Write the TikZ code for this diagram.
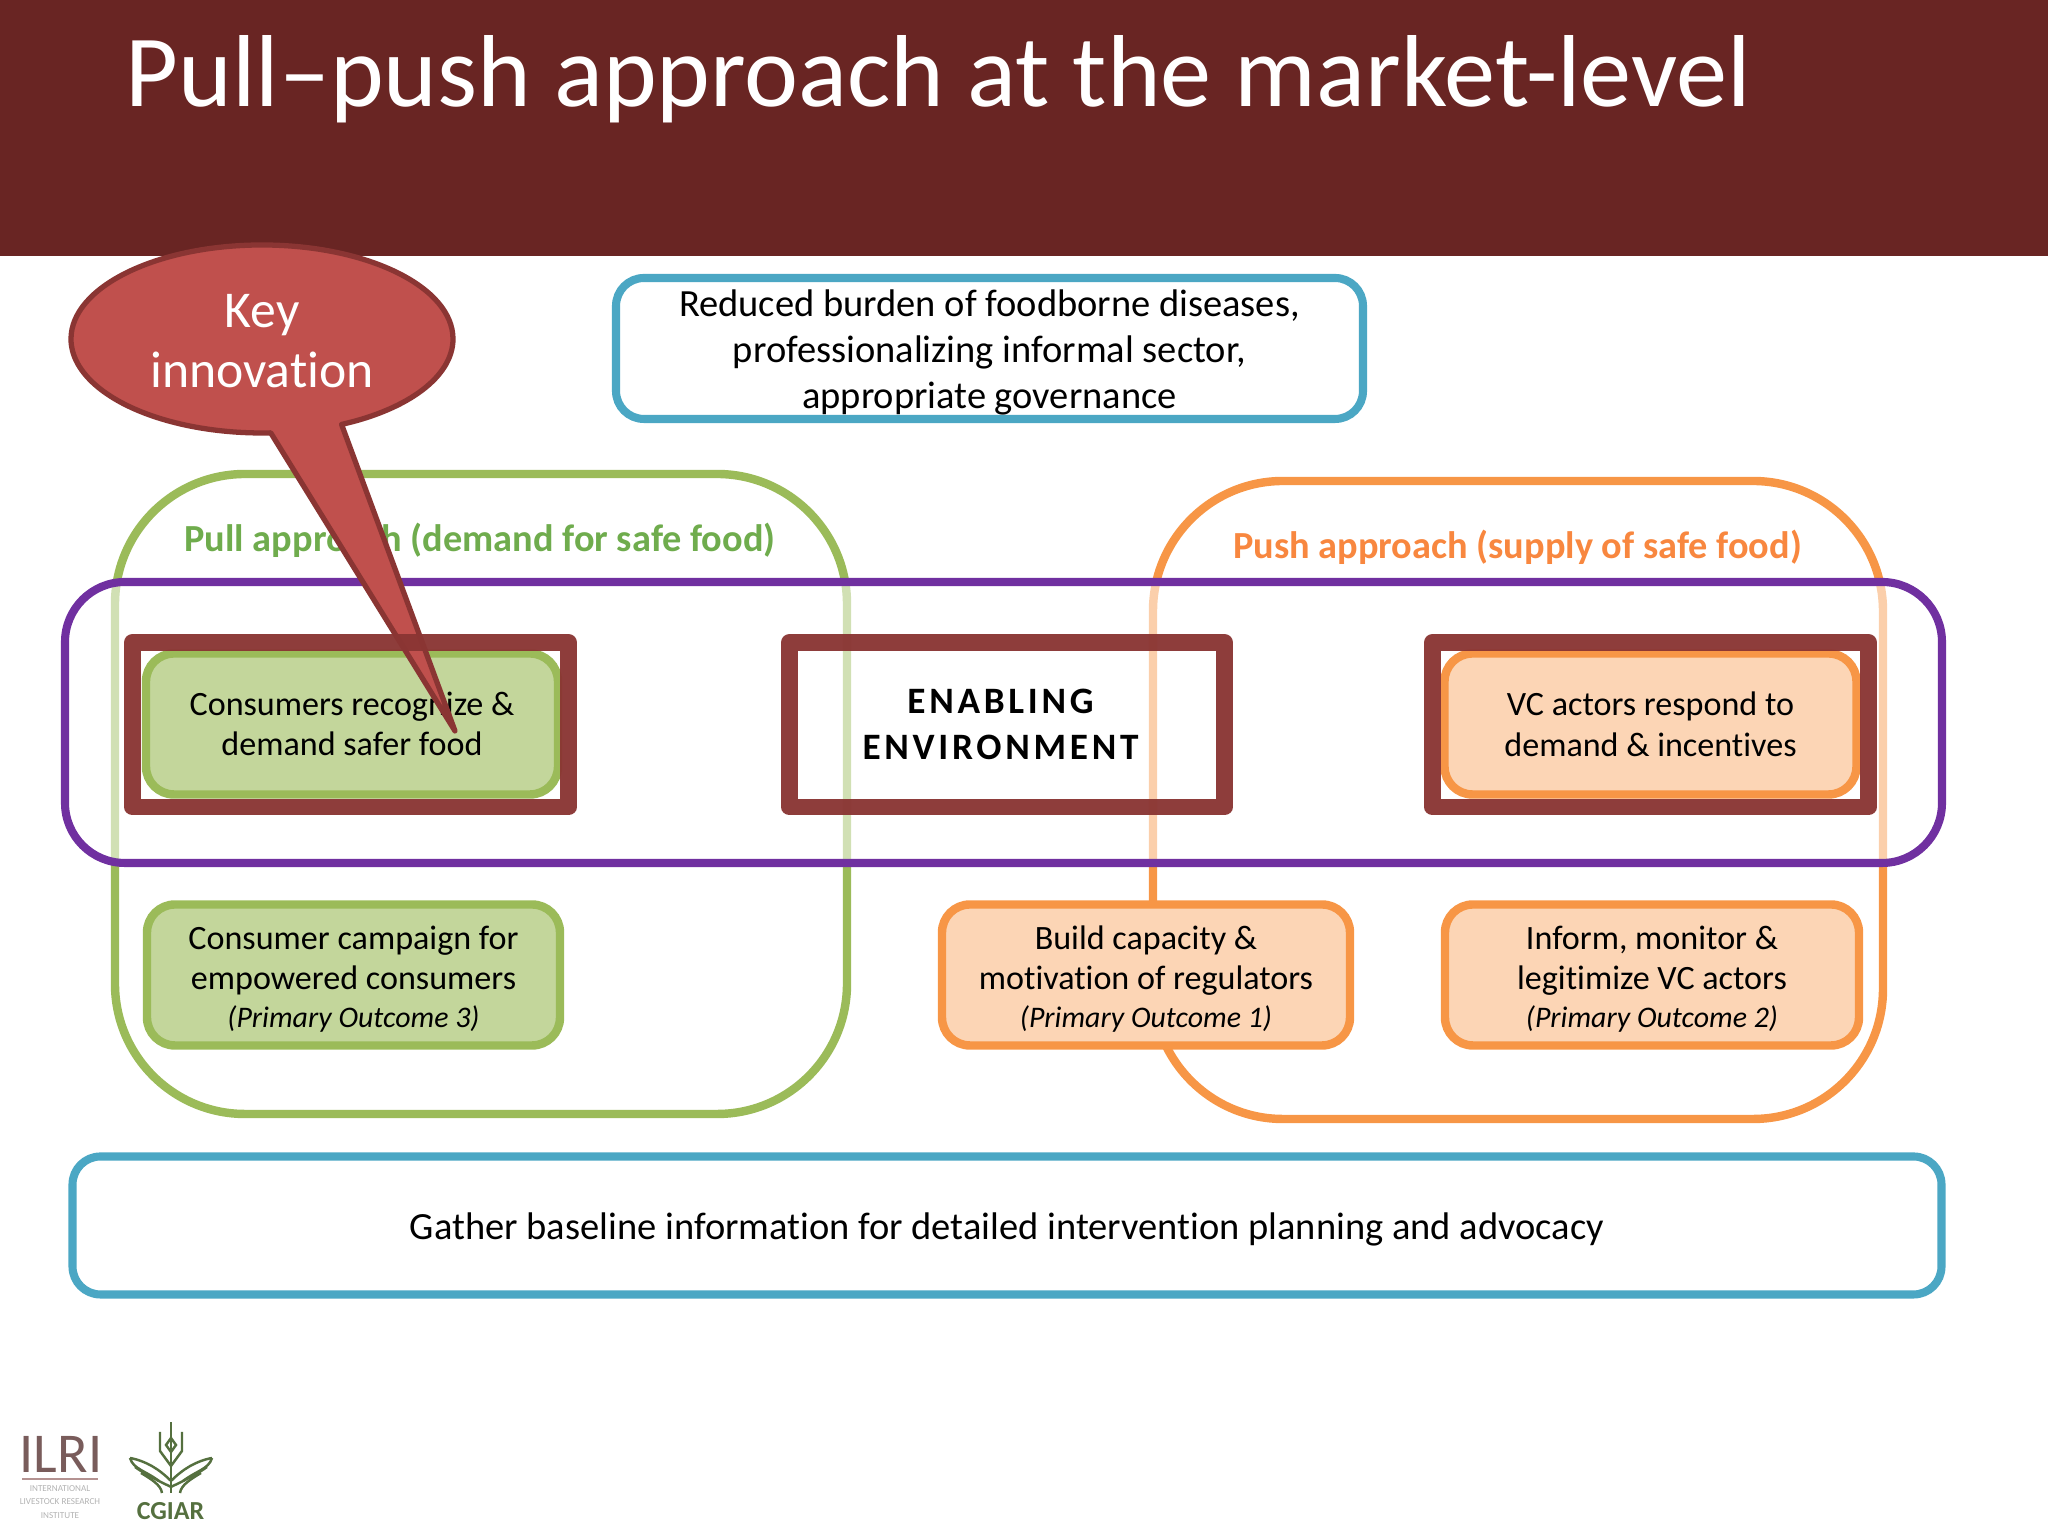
\documentclass[tikz,border=0pt]{standalone}
\usepackage{fontspec}
\setmainfont[Ligatures=NoCommon]{Carlito}
\usetikzlibrary{shapes.geometric, shapes.callouts, positioning, calc}
\definecolor{ilrimaroon}{HTML}{692523}
\definecolor{ilriframe}{HTML}{8A3533}
\definecolor{ilrired}{HTML}{C0504D}
\definecolor{ilriblue}{HTML}{4BA7C4}
\definecolor{ilrigreen}{HTML}{9BBB59}
\definecolor{ilrilime}{HTML}{C3D69B}
\definecolor{ilriorange}{HTML}{F79646}
\definecolor{ilripeach}{HTML}{FCD5B5}
\definecolor{ilripurple}{HTML}{7030A0}
\definecolor{ilrigrass}{HTML}{6FAC4D}
\definecolor{ilriwheat}{HTML}{55703F}
\newcommand{\outcomefont}{\fontsize{8.5}{10}\selectfont\itshape}
\newcommand{\droptext}[1]{\rule{0pt}{#1}}

\begin{document}
\begin{tikzpicture}[
    titlebar/.style={rectangle, fill=ilrimaroon, minimum width=20.48cm, minimum height=2.56cm, inner sep=0pt, outer sep=0pt},
    goalbox/.style={rectangle, draw=ilriblue, line width=2.3pt, fill=white, align=center, rounded corners=0.28cm, inner sep=0pt, outer sep=0pt, font=\fontsize{10.95}{13.1}\selectfont},
    pullarea/.style={rectangle, draw=ilrigreen, line width=2.4pt, rounded corners=1.3cm, minimum width=7.32cm, minimum height=6.4cm, outer sep=0pt},
    pusharea/.style={rectangle, draw=ilriorange, line width=2.4pt, rounded corners=1.3cm, minimum width=7.3cm, minimum height=6.38cm, outer sep=0pt},
    levelband/.style={rectangle, draw=ilripurple, line width=2.3pt, fill=white, fill opacity=0.55, draw opacity=1, rounded corners=0.6cm, minimum width=18.77cm, minimum height=2.81cm, outer sep=0pt},
    areatitle/.style={font=\fontsize{10.9}{13}\selectfont\bfseries, inner sep=0pt},
    framebox/.style={rectangle, draw=ilriframe, draw opacity=0.96, line width=4.8pt, line join=round, minimum width=4.36cm, minimum height=1.645cm, align=center, inner sep=0pt, outer sep=0pt},
    pullstep/.style={rectangle, draw=ilrigreen, fill=ilrilime, line width=2.4pt, rounded corners=0.28cm, minimum width=4.12cm, minimum height=1.41cm, align=center, inner sep=0pt, outer sep=0pt, font=\fontsize{9.7}{11.6}\selectfont},
    pushstep/.style={pullstep, draw=ilriorange, fill=ilripeach},
    keycallout/.style={ellipse callout, draw=ilriframe, fill=ilrired, line width=1.5pt, line join=round, text=white, align=center, minimum width=3.82cm, minimum height=1.88cm, inner sep=0pt, callout pointer arc=22, font=\fontsize{14.7}{17.2}\selectfont}
]

% Title
\useasboundingbox (0,0) rectangle (20.48,15.36);
\node[titlebar] (banner) at (10.24,14.08) {};
\node[anchor=base west, text=white, inner sep=0pt, font=\fontsize{29.1}{33}\selectfont] (heading) at (1.25,14.29) {Pull--push approach at the market-level};

% Goal on top
\node[goalbox, minimum width=7.47cm, minimum height=1.41cm] (goal) at (9.895,11.875) {\droptext{10pt}Reduced burden of foodborne diseases,\\professionalizing informal sector,\\appropriate governance};

% The two approaches and the level across them
\node[pullarea] (pull) at (4.81,7.42) {};
\node[pusharea] (push) at (15.18,7.36) {};
\node[areatitle, text=ilrigrass] (pull_title) at (4.80,9.955) {Pull approach (demand for safe food)};
\node[areatitle, text=ilriorange!90!red] (push_title) at (15.175,9.885) {Push approach (supply of safe food)};
\node[levelband] (market) at (10.035,8.135) {};

% Row 2: Outcome boxes
\node[pullstep, minimum width=4.13cm] (campaign) at (3.535,5.61) {\droptext{8.8pt}Consumer campaign for\\empowered consumers\\[-1pt]{\outcomefont (Primary Outcome 3)}};
\node[pushstep, minimum width=4.08cm, right=3.82cm of campaign] (regulators) {\droptext{8.8pt}Build capacity \&\\motivation of regulators\\[-1pt]{\outcomefont (Primary Outcome 1)}};
\node[pushstep, minimum width=4.14cm, right=0.95cm of regulators] (monitor) {\droptext{8.8pt}Inform, monitor \&\\legitimize VC actors\\[-1pt]{\outcomefont (Primary Outcome 2)}};

% Row 1: Framed boxes, the callout runs between box and frame
\node[pullstep] (consumers) at (3.52,8.12) {Consumers recognize \&\\demand safer food};
\node[pushstep] (actors) at (16.505,8.12) {VC actors respond to\\demand \& incentives};
\node[keycallout, callout absolute pointer={(4.55,8.05)}] (key) at (2.62,11.97) {\droptext{10.5pt}Key\\innovation};
\node[framebox] (frame_pull) at (3.505,8.1125) {};
\node[framebox, minimum width=4.35cm, right=2.21cm of frame_pull, font=\fontsize{10.6}{13.1}\selectfont\bfseries\addfontfeature{LetterSpace=10}] (enabling) {ENABLING\hspace*{0.13cm}\\ENVIRONMENT\hspace*{0.13cm}};
\node[framebox, right=2.08cm of enabling] (frame_push) {};

% Baseline
\node[goalbox, minimum width=18.69cm, minimum height=1.38cm] (baseline) at (10.07,3.105) {\droptext{10pt}Gather baseline information for detailed intervention planning and advocacy};

% Logos
\node[anchor=base west, inner sep=0pt, text=ilrimaroon!60!black!70, font=\fontsize{16}{17}\selectfont] (ilri) at (0.19,0.63) {ILRI};
\draw[ilrimaroon!50, line width=0.6pt] (0.22,0.57) -- (0.98,0.57);
\node[inner sep=0pt, text=black!30, align=center, font=\fontsize{2.6}{3.9}\selectfont] (ilri_name) at (0.6,0.34) {INTERNATIONAL\\LIVESTOCK RESEARCH\\INSTITUTE};
\node[inner sep=0pt, text=ilriwheat, font=\fontsize{7.4}{8}\selectfont\bfseries] (cgiar) at (1.705,0.25) {CGIAR};
\begin{scope}[shift={(1.71,0.43)}, draw=ilriwheat, line width=0.7pt]
\draw (0,0) -- (0,0.71);
\draw (0,0.55) -- (0.05,0.48) -- (0,0.41) -- (-0.05,0.48) -- cycle;
\foreach \side in {-1,1} {
    \draw (\side*0.11,0.61) -- (\side*0.11,0.42) -- (0,0.27);
    \draw (\side*0.41,0.35) .. controls (\side*0.25,0.32) and (\side*0.12,0.24) .. (0,0.12);
    \draw (\side*0.41,0.35) .. controls (\side*0.38,0.24) and (\side*0.25,0.22) .. (\side*0.12,0.12);
    \draw (\side*0.36,0.26) .. controls (\side*0.25,0.18) and (\side*0.12,0.12) .. (0,0.06);
    \draw (\side*0.30,0.2) .. controls (\side*0.2,0.14) and (\side*0.1,0.08) .. (\side*0.09,0);
}
\end{scope}

\end{tikzpicture}
\end{document}
